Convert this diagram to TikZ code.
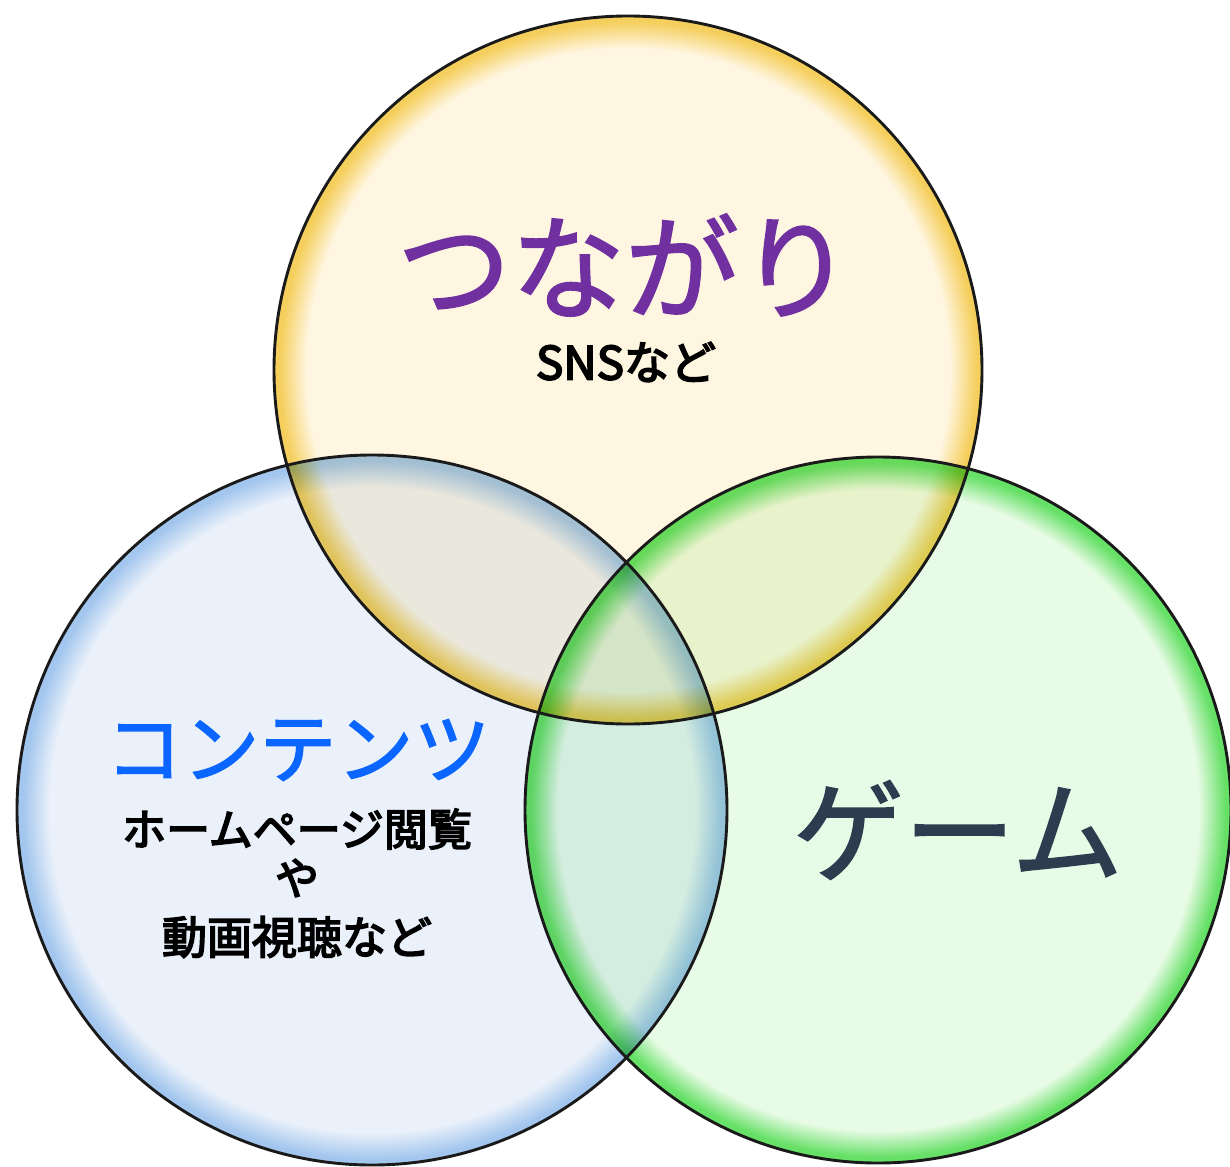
\documentclass[tikz,border=0pt]{standalone}
\usepackage{fontspec}
\newfontfamily\jp[FakeBold=1.6]{Noto Sans CJK JP}
\newfontfamily\jps[FakeBold=3.6]{Noto Sans CJK JP}
\definecolor{yin}{HTML}{FFF6E2}
\definecolor{yedge}{HTML}{F5CF5E}
\definecolor{bin}{HTML}{EAF1FA}
\definecolor{bedge}{HTML}{A3C6EE}
\definecolor{gin}{HTML}{E8FBE6}
\definecolor{gedge}{HTML}{66E066}
\definecolor{tpurple}{HTML}{7030A0}
\definecolor{tblue}{HTML}{0A66FF}
\definecolor{tslate}{HTML}{2F3B4E}
\definecolor{rim}{HTML}{1A1A1A}
\pgfdeclareradialshading{yglow}{\pgfpoint{0bp}{0bp}}{color(0bp)=(yin); color(22.7bp)=(yin); color(24.6bp)=(yedge); color(25bp)=(yedge); color(50bp)=(yedge)}
\pgfdeclareradialshading{bglow}{\pgfpoint{0bp}{0bp}}{color(0bp)=(bin); color(22.7bp)=(bin); color(24.6bp)=(bedge); color(25bp)=(bedge); color(50bp)=(bedge)}
\pgfdeclareradialshading{gglow}{\pgfpoint{0bp}{0bp}}{color(0bp)=(gin); color(22.7bp)=(gin); color(24.6bp)=(gedge); color(25bp)=(gedge); color(50bp)=(gedge)}
\tikzset{
  rimline/.style={draw=rim, line width=2.9pt},
  label/.style={inner sep=0pt},
}
\begin{document}
\begin{tikzpicture}[x=1pt,y=-1pt]
\useasboundingbox (0,0) rectangle (1230,1166);
\fill[white] (0,0) rectangle (1230,1166);
\begin{scope}[blend group=multiply]
  \shade[shading=yglow] (628,370) circle[radius=354pt];
  \shade[shading=bglow] (372,810) circle[radius=355pt];
  \shade[shading=gglow] (878,810) circle[radius=353pt];
\end{scope}
\draw[rimline] (628,370) circle[radius=354pt];
\draw[rimline] (372,810) circle[radius=355pt];
\draw[rimline] (878,810) circle[radius=353pt];
\node[label, text=tpurple, font=\jp\fontsize{114}{114}\selectfont] (tsunagari) at (625,265) {つながり};
\node[label, text=black, font=\jps\fontsize{46}{46}\selectfont] (sns) at (626,362) {SNSなど};
\node[label, text=tblue, font=\jp\fontsize{77}{77}\selectfont] (contents) at (298,750) {コンテンツ};
\node[label, text=black, font=\jps\fontsize{44}{44}\selectfont] (hp) at (297,829) {ホームページ閲覧};
\node[label, text=black, font=\jps\fontsize{44}{44}\selectfont] (ya) at (297,878) {や};
\node[label, text=black, font=\jps\fontsize{45}{45}\selectfont] (douga) at (297,937) {動画視聴など};
\node[label, text=tslate, font=\jp\fontsize{111}{111}\selectfont] (game) at (958,830) {ゲーム};
\end{tikzpicture}
\end{document}
